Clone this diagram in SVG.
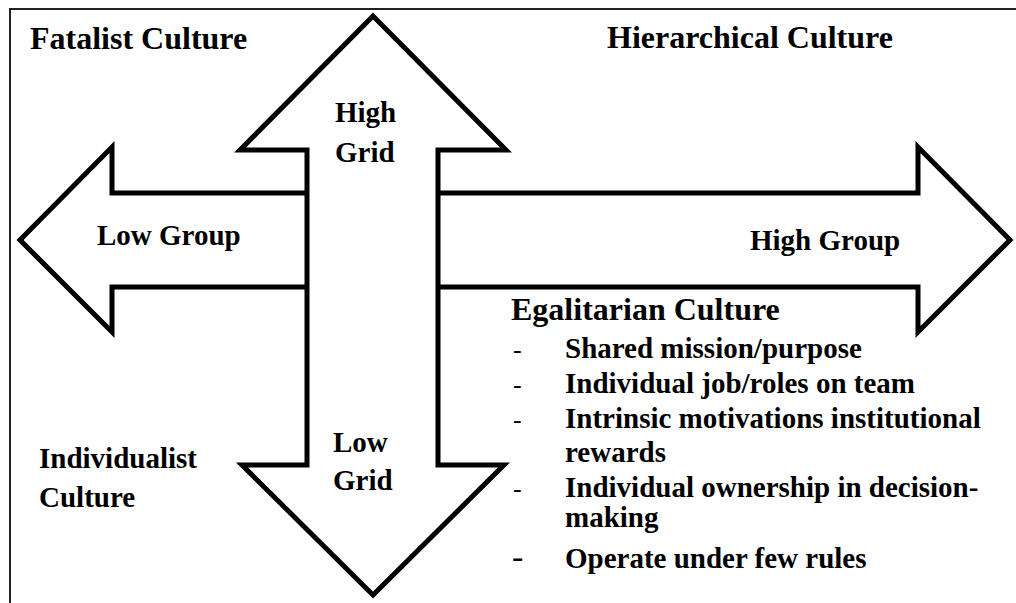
<svg xmlns="http://www.w3.org/2000/svg" width="1016" height="603" viewBox="0 0 1016 603">
<style>
.t{font-family:"Liberation Serif","Times New Roman",serif;font-weight:bold;fill:#000}
.h{font-size:32px}
.l{font-size:29px}
.d{font-family:"Liberation Serif","Times New Roman",serif;font-size:26px;fill:#000}
.arrow{fill:#fff;stroke:#000;stroke-width:5;stroke-linejoin:miter;stroke-miterlimit:10}
</style>
<rect x="10" y="9" width="1100" height="700" fill="#fff" stroke="#222" stroke-width="2"/>
<g id="connectors">
<polygon id="group-axis" class="arrow" points="20,240 112,147 112,193 918,193 918,147 1010,240 918,332 918,287 112,287 112,332"/>
<polygon id="grid-axis" class="arrow" points="373,16 506,150 438,150 438,465 504,465 373,595 242,465 307,465 307,150 240,150"/>
</g>
<g id="fatalist"><text class="t h" x="30" y="49">Fatalist Culture</text></g>
<g id="hierarchical"><text class="t h" x="607" y="48">Hierarchical Culture</text></g>
<g id="high-grid"><text class="t l" x="335" y="122">High</text><text class="t l" x="335" y="162">Grid</text></g>
<g id="low-group"><text class="t l" x="97" y="245">Low Group</text></g>
<g id="high-group"><text class="t l" x="750" y="250">High Group</text></g>
<g id="low-grid"><text class="t l" x="333" y="452">Low</text><text class="t l" x="333" y="490">Grid</text></g>
<g id="individualist"><text class="t l" x="39" y="468">Individualist</text><text class="t l" x="39" y="507">Culture</text></g>
<g id="egalitarian">
<text class="t h" x="511" y="320">Egalitarian Culture</text>
<text class="d" x="513" y="358">-</text><text class="t l" x="565" y="358">Shared mission/purpose</text>
<text class="d" x="513" y="393">-</text><text class="t l" x="565" y="393">Individual job/roles on team</text>
<text class="d" x="513" y="428">-</text><text class="t l" x="565" y="428">Intrinsic motivations institutional</text>
<text class="t l" x="565" y="462">rewards</text>
<text class="d" x="513" y="497">-</text><text class="t l" x="565" y="497">Individual ownership in decision-</text>
<text class="t l" x="565" y="527">making</text>
<text class="d" x="512" y="568" style="font-size:34px">-</text><text class="t l" x="565" y="568">Operate under few rules</text>
</g>
</svg>
